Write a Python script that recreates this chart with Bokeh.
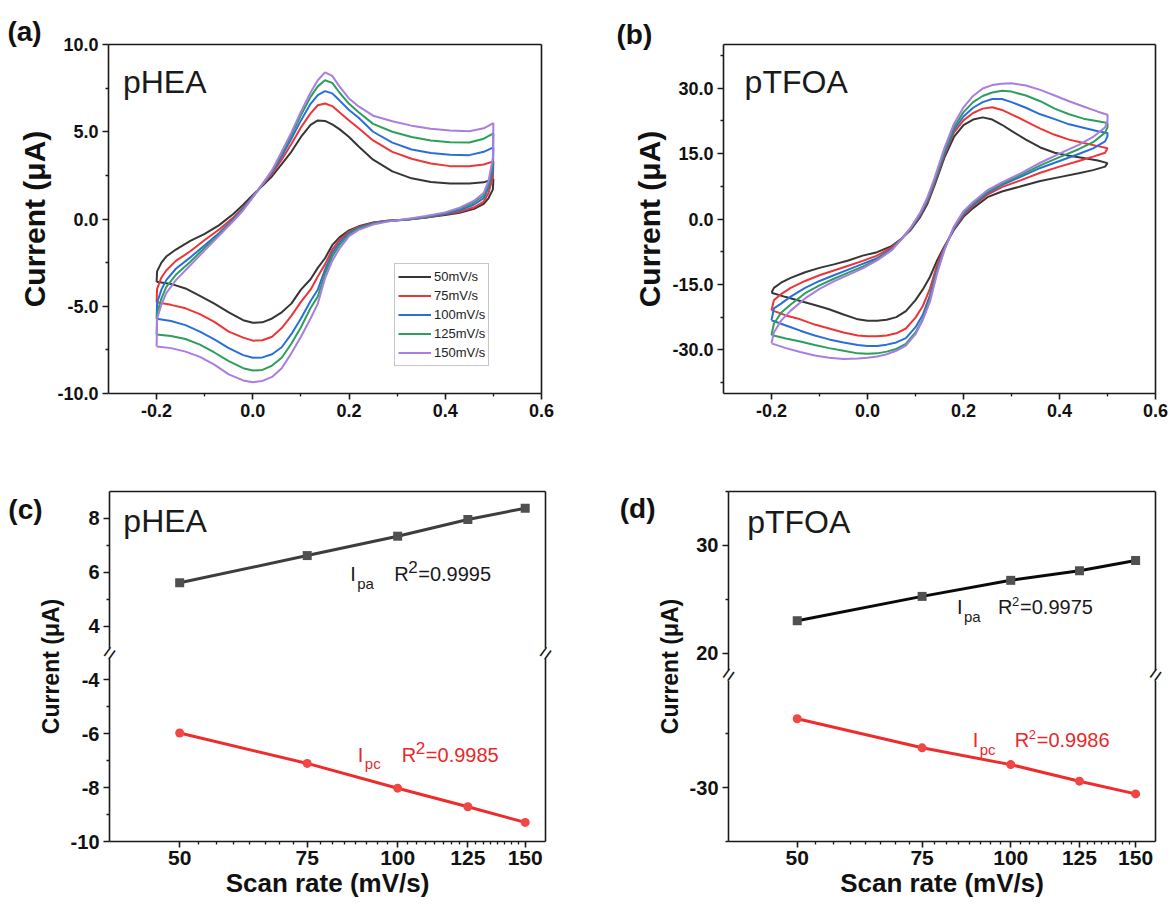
from bokeh.plotting import figure
from bokeh.models import (Range1d, FixedTicker, NumeralTickFormatter, Label,
                          LinearAxis, Legend, LegendItem)
from bokeh.layouts import column, row
from bokeh.embed import file_html
from bokeh.resources import INLINE

FONT = "Liberation Sans"
INK = "#1a1a1a"

# ---------------- data ----------------
rate_labels = ["50mV/s", "75mV/s", "100mV/s", "125mV/s", "150mV/s"]
cv_colors = ["#363636", "#ee3535", "#2a6fd8", "#2e9e5c", "#a97de2"]

# panel (a) pHEA CV: anodic (upper) branch and cathodic (lower) branch
a_up_v = [-0.2, -0.199, -0.19, -0.18, -0.16, -0.13, -0.10, -0.07, -0.04, -0.02, 0.0, 0.02, 0.04,
          0.06, 0.08, 0.10, 0.12, 0.135, 0.15, 0.165, 0.18, 0.20, 0.22, 0.25, 0.29, 0.33, 0.37,
          0.41, 0.45, 0.48, 0.5]
a_up_50 = [-3.6, -3.0, -2.5, -2.15, -1.75, -1.25, -0.85, -0.35, 0.3, 0.82, 1.38, 1.9, 2.45, 3.15,
           3.85, 4.7, 5.4, 5.65, 5.62, 5.42, 5.15, 4.7, 4.15, 3.4, 2.73, 2.33, 2.12, 2.03, 2.03, 2.1, 2.3]
a_up_75 = [-4.77, -4.0, -3.35, -2.95, -2.4, -1.85, -1.2, -0.6, 0.1, 0.65, 1.3, 1.95, 2.6, 3.4, 4.3,
           5.25, 6.05, 6.52, 6.62, 6.47, 6.12, 5.65, 5.2, 4.5, 3.85, 3.45, 3.18, 3.03, 3.02, 3.12, 3.3]
a_up_100 = [-5.72, -4.8, -4.05, -3.5, -2.85, -2.2, -1.5, -0.8, 0.0, 0.6, 1.28, 1.98, 2.7, 3.6, 4.6,
            5.65, 6.6, 7.1, 7.33, 7.2, 6.8, 6.25, 5.8, 5.0, 4.38, 3.98, 3.78, 3.68, 3.66, 3.85, 4.1]
a_up_125 = [-6.62, -5.4, -4.55, -3.9, -3.2, -2.45, -1.65, -0.9, -0.05, 0.55, 1.25, 2.0, 2.75, 3.75,
            4.8, 5.95, 7.0, 7.6, 7.95, 7.8, 7.25, 6.6, 6.12, 5.45, 5.0, 4.7, 4.5, 4.4, 4.38, 4.6, 4.9]
a_up_150 = [-7.31, -5.7, -4.9, -4.25, -3.5, -2.65, -1.8, -0.95, -0.1, 0.5, 1.25, 2.0, 2.8, 3.85,
            4.95, 6.15, 7.25, 7.95, 8.4, 8.2, 7.6, 6.9, 6.45, 5.92, 5.6, 5.35, 5.17, 5.07, 5.03, 5.2, 5.5]

a_lo_v = [0.5, 0.499, 0.49, 0.48, 0.46, 0.43, 0.40, 0.36, 0.32, 0.28, 0.25, 0.22, 0.20, 0.18, 0.165,
          0.15, 0.135, 0.12, 0.10, 0.08, 0.06, 0.04, 0.02, 0.0, -0.02, -0.05, -0.08, -0.11, -0.14,
          -0.17, -0.2]
a_lo_50 = [2.3, 1.7, 1.2, 0.87, 0.58, 0.36, 0.23, 0.08, -0.04, -0.1, -0.2, -0.42, -0.65, -1.05, -1.5,
           -2.25, -2.8, -3.45, -4.05, -4.85, -5.35, -5.7, -5.92, -5.95, -5.8, -5.35, -4.85, -4.4,
           -3.98, -3.72, -3.6]
a_lo_75 = [3.3, 2.4, 1.5, 1.0, 0.67, 0.42, 0.27, 0.09, -0.03, -0.1, -0.22, -0.45, -0.72, -1.2, -1.75,
           -2.6, -3.3, -4.05, -4.75, -5.55, -6.25, -6.75, -6.95, -6.97, -6.8, -6.45, -5.9, -5.45,
           -5.12, -4.92, -4.77]
a_lo_100 = [4.1, 2.8, 1.8, 1.2, 0.83, 0.5, 0.3, 0.1, -0.03, -0.12, -0.25, -0.5, -0.8, -1.35, -1.95,
            -2.9, -4.05, -4.7, -5.7, -6.6, -7.35, -7.75, -7.93, -7.95, -7.8, -7.4, -6.9, -6.45,
            -6.08, -5.85, -5.72]
a_lo_125 = [4.9, 3.2, 2.0, 1.35, 0.96, 0.6, 0.35, 0.13, -0.03, -0.13, -0.28, -0.55, -0.88, -1.5,
            -2.15, -3.15, -4.45, -5.1, -6.2, -7.15, -7.95, -8.4, -8.65, -8.68, -8.55, -8.15, -7.65,
            -7.2, -6.88, -6.7, -6.62]
a_lo_150 = [5.5, 3.5, 2.2, 1.5, 1.05, 0.65, 0.38, 0.17, 0.0, -0.15, -0.32, -0.62, -0.98, -1.7, -2.4,
            -3.4, -4.85, -5.7, -6.75, -7.7, -8.55, -9.05, -9.28, -9.35, -9.25, -8.9, -8.35, -7.9,
            -7.6, -7.4, -7.31]

# panel (b) pTFOA CV
b_up_v = [-0.2, -0.195, -0.18, -0.16, -0.13, -0.10, -0.07, -0.04, -0.01, 0.02, 0.05, 0.07, 0.09,
          0.11, 0.125, 0.14, 0.16, 0.18, 0.20, 0.22, 0.24, 0.26, 0.28, 0.30, 0.33, 0.36, 0.39, 0.42,
          0.45, 0.48, 0.5]
b_up_50 = [-16.9, -15.8, -14.6, -13.5, -12.2, -11.2, -10.4, -9.5, -8.4, -7.6, -6.2, -4.6, -2.5, 0.5,
           3.5, 7.8, 14.0, 18.8, 21.5, 22.8, 23.3, 22.8, 21.6, 20.2, 18.2, 16.4, 15.2, 14.5, 14.0,
           13.4, 12.8]
b_up_75 = [-20.9, -18.6, -17.2, -15.8, -14.2, -12.9, -11.8, -10.7, -9.6, -8.4, -6.5, -4.6, -2.3, 0.9,
           4.0, 8.3, 14.6, 19.8, 22.6, 24.3, 25.3, 25.6, 25.0, 24.0, 22.4, 20.7, 19.3, 18.2, 17.4,
           16.7, 16.2]
b_up_100 = [-23.2, -20.5, -19.4, -17.8, -15.8, -14.2, -12.9, -11.6, -10.3, -9.0, -6.9, -4.6, -2.2,
            1.1, 4.3, 8.6, 15.0, 20.4, 23.5, 25.5, 26.8, 27.5, 27.5, 26.8, 25.5, 24.0, 22.9, 21.7,
            20.9, 20.1, 19.7]
b_up_125 = [-26.6, -24.0, -21.5, -19.6, -17.0, -15.2, -13.7, -12.3, -10.9, -9.3, -7.1, -4.7, -2.1,
            1.3, 4.6, 8.9, 15.5, 21.0, 24.5, 26.8, 28.2, 29.0, 29.4, 29.2, 28.3, 27.0, 25.3, 24.0,
            23.0, 22.4, 22.0]
b_up_150 = [-28.5, -26.0, -23.3, -21.0, -18.2, -16.0, -14.3, -12.8, -11.3, -9.5, -7.2, -4.8, -2.0,
            1.5, 5.0, 9.5, 16.2, 21.8, 25.6, 28.2, 29.9, 30.7, 31.0, 31.1, 30.6, 29.6, 28.3, 27.0,
            25.8, 24.6, 23.9]

b_lo_v = [0.5, 0.495, 0.47, 0.44, 0.40, 0.36, 0.32, 0.28, 0.25, 0.22, 0.20, 0.18, 0.16, 0.145, 0.13,
          0.115, 0.10, 0.08, 0.06, 0.04, 0.02, 0.0, -0.02, -0.05, -0.08, -0.11, -0.14, -0.17, -0.2]
b_lo_50 = [12.8, 12.0, 11.2, 10.5, 9.6, 8.7, 7.5, 6.3, 5.0, 2.5, 0.5, -2.5, -6.3, -9.5, -13.3, -16.2,
           -18.6, -21.1, -22.5, -23.1, -23.3, -23.3, -23.0, -21.9, -20.7, -19.7, -18.8, -17.9, -16.9]
b_lo_75 = [16.2, 15.2, 14.3, 13.3, 12.0, 10.6, 8.9, 7.3, 5.6, 3.0, 0.9, -2.3, -6.5, -10.5, -16.0,
           -20.0, -22.6, -25.1, -26.2, -26.7, -26.9, -26.9, -26.7, -26.0, -25.1, -24.2, -23.0, -22.1,
           -20.9]
b_lo_100 = [19.0, 17.8, 16.2, 14.9, 13.3, 11.7, 9.7, 7.8, 6.0, 3.3, 1.2, -2.1, -6.8, -11.5, -17.5,
            -22.0, -24.8, -27.3, -28.3, -28.8, -29.1, -29.1, -28.9, -28.3, -27.6, -26.7, -25.6,
            -24.4, -23.2]
b_lo_125 = [21.0, 19.8, 17.6, 16.0, 14.2, 12.3, 10.1, 8.1, 6.3, 3.6, 1.5, -1.9, -7.0, -12.0, -18.3,
            -23.0, -26.0, -28.6, -29.8, -30.4, -30.8, -30.9, -30.8, -30.2, -29.6, -28.9, -28.1,
            -27.4, -26.6]
b_lo_150 = [22.5, 21.0, 18.8, 17.0, 15.0, 12.9, 10.5, 8.4, 6.6, 3.9, 1.8, -1.7, -7.2, -12.5, -19.0,
            -23.2, -26.4, -29.0, -30.2, -31.0, -31.5, -31.8, -32.0, -32.1, -31.8, -31.3, -30.5,
            -29.6, -28.5]

# panels (c)/(d): peak currents vs scan rate
scan_rate = [50, 75, 100, 125, 150]
c_ipa = [5.61, 6.62, 7.34, 7.96, 8.38]
c_ipc = [-5.97, -7.10, -8.02, -8.71, -9.29]
d_ipa = [23.0, 25.26, 26.75, 27.65, 28.6]
d_ipc = [-23.6, -26.3, -27.86, -29.4, -30.58]

# broken-axis settings (upper segment shifted down by *_shift)
c_shift = 6.0
c_lower_ticks = [-10, -8, -6, -4]
c_upper_ticks = [4, 6, 8]
d_shift = 37.5
d_lower_ticks = [-30]
d_upper_ticks = [20, 30]

x_ticks_cv = [-0.2, 0.0, 0.2, 0.4, 0.6]
x_ticks_rate = [50, 75, 100, 125, 150]


# ---------------- helpers ----------------
def style_axis(ax, size):
    ax.axis_line_color = INK
    ax.axis_line_width = 1.6
    ax.major_tick_line_color = INK
    ax.major_tick_line_width = 1.6
    ax.minor_tick_line_color = INK
    ax.minor_tick_line_width = 1.3
    ax.major_tick_in = 0
    ax.major_tick_out = 6
    ax.minor_tick_in = 0
    ax.minor_tick_out = 3
    ax.major_label_text_font = FONT
    ax.major_label_text_font_style = "bold"
    ax.major_label_text_font_size = size
    ax.major_label_text_color = "#111111"
    ax.major_label_standoff = 4
    ax.axis_label_text_font = FONT
    ax.axis_label_text_font_style = "bold"
    ax.axis_label_text_color = "#111111"
    ax.axis_label_standoff = 4


def make_fig(xr, yr, w, h, bl, br, bt, bb, xtype="linear"):
    p = figure(x_range=xr, y_range=yr, x_axis_type=xtype, width=w, height=h,
               min_border_left=bl, min_border_right=br, min_border_top=bt,
               min_border_bottom=bb, output_backend="svg", toolbar_location=None)
    p.xgrid.visible = False
    p.ygrid.visible = False
    p.outline_line_color = None
    p.background_fill_color = "white"
    p.border_fill_color = "white"
    return p


def add_frame_axes(p):
    for place in ("above", "right"):
        ax = LinearAxis(ticker=FixedTicker(ticks=[]))
        ax.axis_line_color = INK
        ax.axis_line_width = 1.6
        ax.major_tick_line_color = None
        ax.minor_tick_line_color = None
        ax.major_label_text_font_size = "0px"
        ax.major_label_standoff = 0
        ax.axis_label = None
        p.add_layout(ax, place)


def add_text(p, x, y, text, size, color=INK, bold=False, x_offset=0, align="left"):
    # y is the vertical centre of the text
    p.add_layout(Label(x=x, y=y, text=text, text_font=FONT, text_font_size=f"{size}px",
                       text_font_style="bold" if bold else "normal", text_color=color,
                       x_offset=x_offset, text_align=align, text_baseline="middle"))


def add_letter(p, x, y, text):
    # panel letter sits outside the frame: put it in the (unclipped) top side panel
    p.add_layout(Label(x=x, y=y, text=text, text_font=FONT, text_font_size="28px",
                       text_font_style="bold", text_color="#111111", text_align="left",
                       text_baseline="middle"), "above")


def add_break(p, x, y, side):
    # axis-break mark on a spine; lives in a side panel so it is not clipped by the frame
    p.add_layout(Label(x=x, y=y, text="\u2588", text_color="white", text_font_size="9px",
                       text_align="center", text_baseline="middle"), side)
    p.add_layout(Label(x=x, y=y, text="=", text_color=INK, text_font=FONT,
                       text_font_size="22px", angle=0.95, text_align="center",
                       text_baseline="middle"), side)


def cv_axes(p, yticks, yminor):
    xb = p.below[0]
    yl = p.left[0]
    xb.ticker = FixedTicker(ticks=x_ticks_cv, minor_ticks=[-0.1, 0.1, 0.3, 0.5])
    yl.ticker = FixedTicker(ticks=yticks, minor_ticks=yminor)
    xb.formatter = NumeralTickFormatter(format="0.0")
    yl.formatter = NumeralTickFormatter(format="0.0")
    style_axis(xb, "18px")
    style_axis(yl, "18px")
    yl.axis_label = "Current (\u03bcA)"
    yl.axis_label_text_font_size = "30px"
    yl.axis_label_standoff = 3


# ---------------- panel (a) ----------------
pa = make_fig(Range1d(-0.3, 0.6), Range1d(-10, 10), 590, 450, 108, 49, 44, 57)
a_curves = [(a_up_50, a_lo_50), (a_up_75, a_lo_75), (a_up_100, a_lo_100),
            (a_up_125, a_lo_125), (a_up_150, a_lo_150)]
items = []
for lbl, col, (iu, il) in zip(rate_labels, cv_colors, a_curves):
    r = pa.line(a_up_v + a_lo_v, iu + il, line_color=col, line_width=2)
    items.append(LegendItem(label=lbl, renderers=[r]))
leg = Legend(items=items, location=(286, 27), label_text_font=FONT, label_text_font_size="13px",
             label_text_color="#222222", glyph_width=33, glyph_height=19, label_height=19,
             label_standoff=3, spacing=0, padding=3, margin=0, border_line_color="#8c8c8c",
             border_line_width=1, background_fill_color="white", background_fill_alpha=1)
pa.add_layout(leg)
cv_axes(pa, [-10, -5, 0, 5, 10], [-7.5, -2.5, 2.5, 7.5])
add_text(pa, -0.27, 7.85, "pHEA", 32)
add_frame_axes(pa)
add_letter(pa, -0.51, 10.72, "(a)")

# ---------------- panel (b) ----------------
pb = make_fig(Range1d(-0.3, 0.6), Range1d(-40, 40), 582, 450, 133, 17, 44, 57)
b_curves = [(b_up_50, b_lo_50), (b_up_75, b_lo_75), (b_up_100, b_lo_100),
            (b_up_125, b_lo_125), (b_up_150, b_lo_150)]
for col, (iu, il) in zip(cv_colors, b_curves):
    pb.line(b_up_v + b_lo_v, iu + il, line_color=col, line_width=2)
cv_axes(pb, [-30, -15, 0, 15, 30], [-37.5, -22.5, -7.5, 7.5, 22.5, 37.5])
add_text(pb, -0.256, 31.5, "pTFOA", 32)
add_frame_axes(pb)
add_letter(pb, -0.523, 42.3, "(b)")


# ---------------- panels (c) & (d) ----------------
RED_T = "#e8282b"


def rate_panel(w, bl, br, ylo, yhi, shift, lower_ticks, upper_ticks, minor, ipa, ipc,
               ipa_line, brk, right_break_side):
    p = make_fig(Range1d(40, 160), Range1d(ylo, yhi), w, 455, bl, br, 41, 64, xtype="log")
    ya = [v - shift for v in ipa]
    p.line(scan_rate, ya, line_color=ipa_line, line_width=3)
    p.scatter(scan_rate, ya, marker="square", size=9, fill_color="#505050", line_color=None)
    p.line(scan_rate, ipc, line_color="#ee2c2c", line_width=3)
    p.scatter(scan_rate, ipc, marker="circle", size=9, fill_color="#f04646", line_color=None)
    xb = p.below[0]
    yl = p.left[0]
    minor_x = [50 + 25 * k / 8 for k in range(1, 33) if k % 8 != 0]
    xb.ticker = FixedTicker(ticks=x_ticks_rate, minor_ticks=minor_x)
    xb.formatter = NumeralTickFormatter(format="0")
    ticks = list(lower_ticks) + [t - shift for t in upper_ticks]
    yl.ticker = FixedTicker(ticks=ticks, minor_ticks=minor)
    yl.formatter = NumeralTickFormatter(format="0")
    yl.major_label_overrides = {t - shift: str(t) for t in upper_ticks}
    style_axis(xb, "21px")
    style_axis(yl, "20px")
    xb.major_label_standoff = 3
    xb.axis_label = "Scan rate (mV/s)"
    xb.axis_label_text_font_size = "26px"
    xb.axis_label_standoff = 0
    yl.axis_label = "Current (\u03bcA)"
    yl.axis_label_text_font_size = "23px"
    add_frame_axes(p)
    add_break(p, 40, brk, "left")
    add_break(p, 160, brk, right_break_side)
    return p


pc = rate_panel(585, 108, 40, -10, 3, c_shift, c_lower_ticks, c_upper_ticks,
                [-9, -7, -5, -1, 1], c_ipa, c_ipc, "#3d3d3d", -3, "right")
add_text(pc, 41.8, 1.89, "pHEA", 32)
add_letter(pc, 29.0, 2.35, "(c)")
add_text(pc, 86, -0.08, "I", 20)
add_text(pc, 86, -0.42, "pa", 15, x_offset=7)
add_text(pc, 86, -0.08, "R", 20, x_offset=44)
add_text(pc, 86, 0.18, "2", 17, x_offset=58)
add_text(pc, 86, -0.08, "=0.9995", 20, x_offset=68)
add_text(pc, 88.1, -6.77, "I", 20, color=RED_T)
add_text(pc, 88.1, -7.10, "pc", 15, color=RED_T, x_offset=7)
add_text(pc, 88.1, -6.77, "R", 20, color=RED_T, x_offset=44)
add_text(pc, 88.1, -6.51, "2", 17, color=RED_T, x_offset=58)
add_text(pc, 88.1, -6.77, "=0.9985", 20, color=RED_T, x_offset=68)

pd = rate_panel(587, 140, 17, -35, -2.5, d_shift, d_lower_ticks, d_upper_ticks,
                [-35, -25, 25 - d_shift, 35 - d_shift], d_ipa, d_ipc, "#0a0a0a", -19.5, "left")
add_text(pd, 42.5, -5.35, "pTFOA", 32)
add_letter(pd, 28.1, -4.12, "(d)")
add_text(pd, 84, -13.24, "I", 20)
add_text(pd, 84, -14.08, "pa", 15, x_offset=7)
add_text(pd, 84, -13.24, "R", 20, x_offset=41)
add_text(pd, 84, -12.71, "2", 13, x_offset=55)
add_text(pd, 84, -13.24, "=0.9975", 20, x_offset=63)
add_text(pd, 88.4, -25.62, "I", 20, color=RED_T)
add_text(pd, 88.4, -26.46, "pc", 15, color=RED_T, x_offset=7)
add_text(pd, 88.4, -25.62, "R", 20, color=RED_T, x_offset=42)
add_text(pd, 88.4, -25.06, "2", 13, color=RED_T, x_offset=56)
add_text(pd, 88.4, -25.62, "=0.9986", 20, color=RED_T, x_offset=64)

layout = column(row(pa, pb), row(pc, pd))
open("out.html", "w").write(file_html(layout, INLINE))
